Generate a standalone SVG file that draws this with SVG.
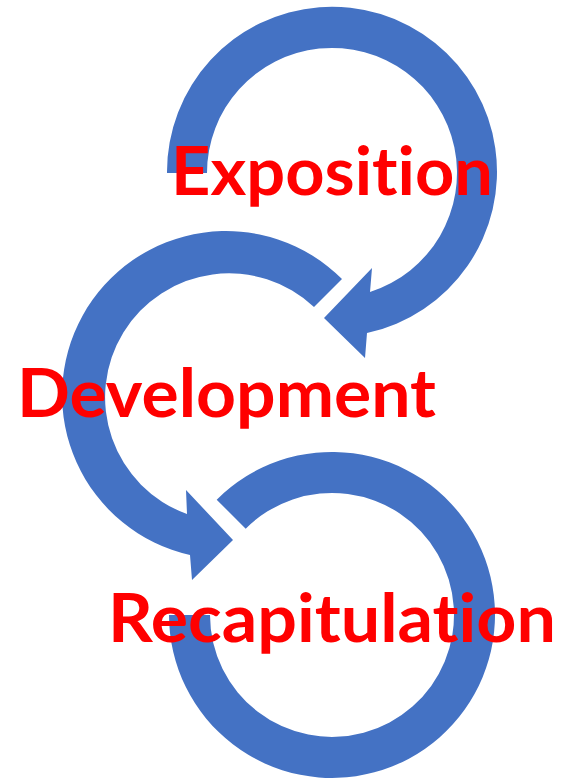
<svg xmlns="http://www.w3.org/2000/svg" width="562" height="780" viewBox="0 0 562 780">
<style>
.arrow{fill:#4472C4;stroke:none}
.lbl{font-family:Lato,"Open Sans","Liberation Sans",sans-serif;font-weight:bold;font-size:66px;fill:#FF0000;font-variant-ligatures:none;font-feature-settings:"liga" 0,"clig" 0}
</style>
<rect width="562" height="780" fill="#FFFFFF"/>
<g id="connectors">
<path id="arrow-exposition" class="arrow" d="M167,173 A165,165 0 1 1 367,333 L365,358 L324,318 L372,268 L370,292 A125,125 0 1 0 207,173 Z"/>
<path id="arrow-development" class="arrow" d="M342,279 A164,164 0 1 0 190,555 L192,580 L233,540 L186,490 L187,514 A124,124 0 1 1 314,307 Z"/>
<path id="arrow-recap" class="arrow" d="M169,615 A163,163 0 1 0 216.7,499.7 L245.7,528.7 A122,122 0 1 1 210,615 Z"/>
</g>
<g id="node-exposition"><text class="lbl" x="171" y="195" textLength="322" lengthAdjust="spacingAndGlyphs">Exposition</text></g>
<g id="node-development"><text class="lbl" x="17" y="417" textLength="419" lengthAdjust="spacingAndGlyphs">Development</text></g>
<g id="node-recapitulation"><text class="lbl" x="108" y="642" textLength="448" lengthAdjust="spacingAndGlyphs">Recapitulation</text></g>
</svg>
